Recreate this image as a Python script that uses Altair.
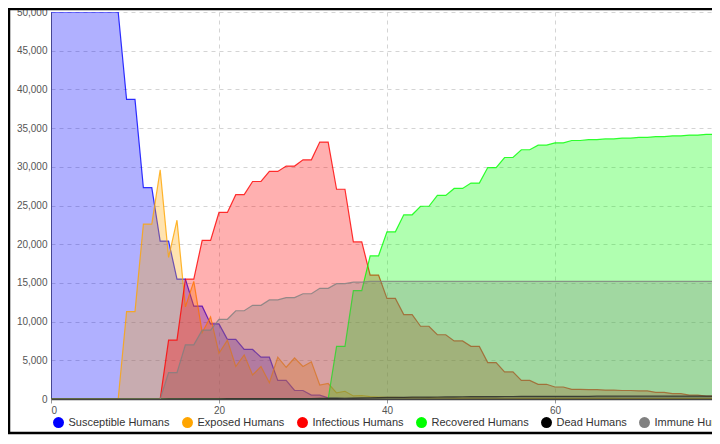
import altair as alt
import pandas as pd

# time steps
t = list(range(81))

series_names = ["Susceptible Humans", "Exposed Humans", "Infectious Humans",
                "Recovered Humans", "Dead Humans", "Immune Humans"]
series_colors = ["#0000ff", "#ffa500", "#ff0000", "#00ff00", "#000000", "#808080"]

susceptible = [50000, 50000, 50000, 50000, 50000, 50000, 50000, 50000, 50000,
               38700, 38700, 27300, 27300, 20400, 20400, 15500, 15500, 12000, 12000,
               9700, 9700, 7700, 7700, 6400, 6400, 5400, 5400, 2400, 2400, 1100, 1100,
               500, 500, 150, 150, 80, 80, 40, 40,
               0, 0, 0, 0, 0, 0, 0, 0, 0, 0, 0, 0, 0, 0, 0, 0, 0, 0, 0, 0, 0,
               0, 0, 0, 0, 0, 0, 0, 0, 0, 0, 0, 0, 0, 0, 0, 0, 0, 0, 0, 0, 0]

exposed = [0, 0, 0, 0, 0, 0, 0, 0, 0,
           11300, 11300, 22600, 22600, 29600, 18300, 23100, 11900, 15200, 8600,
           10600, 5900, 7600, 4200, 5700, 3100, 4200, 2100, 5400, 4100, 5300, 4200,
           4800, 1800, 2000, 800, 1000, 400, 450, 300, 250, 200, 200, 180, 170, 160,
           150, 140, 130, 120, 120, 110, 110, 100, 100, 100, 100, 90, 90, 90, 90, 80,
           80, 80, 80, 70, 70, 70, 70, 60, 60, 60, 60, 60, 50, 50, 50, 50, 50, 50, 50, 50]

infectious = [0, 0, 0, 0, 0, 0, 0, 0, 0, 0, 0, 0, 0, 0,
              7600, 7600, 15500, 15500, 20500, 20500, 24100, 24100, 26400, 26400,
              28100, 28100, 29400, 29400, 30100, 30100, 30900, 30900, 33200, 33200,
              27100, 27100, 20300, 20300, 16000, 16000, 13000, 13000, 10900, 10900,
              9400, 9400, 8300, 8300, 7500, 7500, 6800, 6800, 4700, 4700, 3500, 3500,
              2400, 2400, 1900, 1900, 1550, 1550, 1250, 1250, 1200, 1200, 1150, 1150,
              1100, 1100, 1050, 1050, 850, 850, 700, 700, 500, 500, 380, 380, 300]

recovered = [0, 0, 0, 0, 0, 0, 0, 0, 0, 0, 0, 0, 0, 0, 0, 0, 0, 0, 0, 0,
             0, 0, 0, 0, 0, 0, 0, 0, 0, 0, 0, 0, 0, 0,
             6800, 6800, 14000, 14000, 18500, 18500, 21600, 21600, 23800, 23800,
             24900, 24900, 26300, 26300, 27200, 27200, 27900, 27900, 29900, 29900,
             31200, 31200, 32200, 32200, 32800, 32800, 33100, 33100, 33400, 33400,
             33500, 33500, 33600, 33600, 33700, 33700, 33800, 33800, 33900, 33900,
             34000, 34000, 34100, 34100, 34200, 34200, 34250]

dead = [0, 0, 0, 0, 0, 0, 0, 0, 0, 0, 0, 0, 0, 0,
        10, 10, 20, 20, 30, 30, 30, 40, 40, 40, 50, 50, 50, 50, 60, 60, 60, 60, 70, 70,
        90, 100, 120, 140, 160, 180, 200, 210, 220, 230, 240, 250, 260, 270, 280, 290,
        300, 300, 310, 310, 320, 320, 330, 330, 340, 340, 340, 350, 350, 350, 350,
        360, 360, 360, 360, 370, 370, 370, 370, 370, 380, 380, 380, 380, 380, 380, 380]

immune = [0, 0, 0, 0, 0, 0, 0, 0, 0, 0, 0, 0, 0, 0,
          3400, 3400, 7000, 7000, 8900, 8900, 10300, 10300, 11400, 11400,
          12100, 12100, 12800, 12800, 13100, 13100, 13600, 13600, 14300, 14300,
          14900, 14900, 15100, 15100,
          15200, 15200, 15200, 15200, 15200, 15200, 15200, 15200, 15200, 15200,
          15200, 15200, 15200, 15200, 15200, 15200, 15200, 15200, 15200, 15200,
          15200, 15200, 15200, 15200, 15200, 15200, 15200, 15200, 15200, 15200,
          15200, 15200, 15200, 15200, 15200, 15200, 15200, 15200, 15200, 15200,
          15200, 15200, 15200]

all_series = [susceptible, exposed, infectious, recovered, dead, immune]

rows = []
for name, vals in zip(series_names, all_series):
    for ti, v in zip(t, vals):
        rows.append({"t": ti, "value": v, "series": name})
df = pd.DataFrame(rows)

color = alt.Color(
    "series:N",
    scale=alt.Scale(domain=series_names, range=series_colors),
    legend=alt.Legend(
        title=None,
        orient="none",
        direction="horizontal",
        legendX=2,
        legendY=405,
        symbolType="circle",
        symbolSize=120,
        symbolOpacity=1,
        symbolStrokeWidth=0,
        labelFontSize=11,
        labelColor="#333333",
        labelOffset=4.5,
        columnPadding=12,
    ),
)

x_enc = alt.X(
    "t:Q",
    scale=alt.Scale(domain=[0, 78.7], nice=False, zero=False),
    axis=alt.Axis(values=[0, 20, 40, 60], title=None, grid=True,
                  gridDash=[4, 4], gridColor="#d4d4d4",
                  domainColor="#444444", domainWidth=1.5,
                  tickColor="#999999", tickSize=4,
                  labelColor="#555555", labelFontSize=10, labelPadding=2),
)
y_enc = alt.Y(
    "value:Q",
    scale=alt.Scale(domain=[0, 50000], nice=False),
    axis=alt.Axis(values=list(range(0, 50001, 5000)), format=",.0f",
                  formatType="number", title=None,
                  grid=True, gridDash=[4, 4], gridColor="#d4d4d4",
                  domainColor="#666666", ticks=False,
                  labelColor="#555555", labelFontSize=10, labelPadding=4),
)

layers = []
for name in series_names:
    b = alt.Chart(df).transform_filter(alt.datum.series == name).encode(
        x=x_enc, y=y_enc, color=color
    )
    layers.append(b.mark_area(fillOpacity=0.31, clip=True, interpolate="linear"))
    layers.append(b.mark_line(strokeWidth=1.2, strokeOpacity=0.8, clip=True))

frame = alt.Chart(pd.DataFrame({"k": [0]})).mark_rect(
    filled=False, stroke="#000000", strokeWidth=2.5, clip=False
).encode(
    x=alt.value(-42), x2=alt.value(700), y=alt.value(-3), y2=alt.value(421)
)
layers.append(frame)

chart = alt.layer(*layers).properties(
    width=661,
    height=387,
    autosize=alt.AutoSizeParams(type="none"),
    padding={"left": 43, "top": 4, "right": 0, "bottom": 36},
).configure(
    font="Liberation Sans",
).configure_view(
    strokeWidth=0
)

chart.save("out.html", embed_options={"renderer": "svg", "actions": False})
